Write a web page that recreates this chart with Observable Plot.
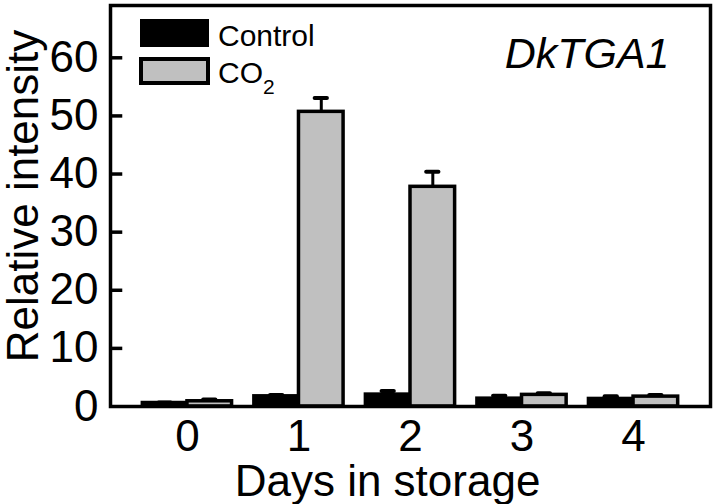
<!DOCTYPE html>
<html><head><meta charset="utf-8">
<script src="https://cdn.jsdelivr.net/npm/d3@7"></script>
<script src="https://cdn.jsdelivr.net/npm/@observablehq/plot@0.6"></script>
<style>
body{margin:0;background:#fff;}
#chart{position:relative;width:716px;height:504px;}
</style></head><body><div id="chart"></div>
<script>
const days = [0, 1, 2, 3, 4];
const treatments = ["Control", "CO2"];
const controlValues = [0.6, 1.75, 2.05, 1.35, 1.3];
const controlErrors = [0.1, 0.25, 0.6, 0.5, 0.45];
const co2Values = [0.9, 50.7, 37.8, 2.0, 1.7];
const co2Errors = [0.3, 2.4, 2.6, 0.3, 0.3];
const yTicks = [0, 10, 20, 30, 40, 50, 60];
const xTickLabels = ["0", "1", "2", "3", "4"];
const geneLabel = "DkTGA1";
const xTitle = "Days in storage";
const yTitle = "Relative intensity";

const font = "'Liberation Sans', Arial, Helvetica, sans-serif";
const xDomain = [-0.69, 4.69];
const barWidth = 0.4;
const capHalf = 0.055;
const tickLen = 0.11;

const rows = [];
days.forEach((d, i) => {
  rows.push({day: d, treatment: treatments[0], value: controlValues[i], err: controlErrors[i], x1: d - barWidth, x2: d});
  rows.push({day: d, treatment: treatments[1], value: co2Values[i], err: co2Errors[i], x1: d, x2: d + barWidth});
});
const mid = d => (d.x1 + d.x2) / 2;

const plot = Plot.plot({
  width: 716, height: 504,
  marginLeft: 110, marginRight: 6, marginTop: 5, marginBottom: 98,
  style: {fontFamily: font, background: "#fff", color: "#000"},
  x: {type: "linear", domain: xDomain, axis: null},
  y: {domain: [0, 69], axis: null},
  marks: [
    Plot.ruleX(rows, {x: mid, y1: "value", y2: d => d.value + d.err, stroke: "#000", strokeWidth: 3}),
    Plot.ruleY(rows, {y: d => d.value + d.err, x1: d => mid(d) - capHalf, x2: d => mid(d) + capHalf, stroke: "#000", strokeWidth: 4, strokeLinecap: "round"}),
    Plot.rectY(rows.filter(d => d.treatment === treatments[0]), {x1: "x1", x2: "x2", y1: 0, y2: "value", fill: "#000", stroke: "#000", strokeWidth: 3.5}),
    Plot.rectY(rows.filter(d => d.treatment === treatments[1]), {x1: "x1", x2: "x2", y1: 0, y2: "value", fill: "#c0c0c0", stroke: "#000", strokeWidth: 3.5}),
    Plot.ruleY(yTicks.slice(1), {y: d => d, x1: xDomain[0], x2: xDomain[0] + tickLen, stroke: "#000", strokeWidth: 3.5}),
    Plot.frame({stroke: "#000", strokeWidth: 3.5}),
    Plot.axisY(yTicks, {anchor: "left", tickSize: 0, tickPadding: 12, fontSize: 44, stroke: "none", label: null}),
    Plot.axisX(days, {anchor: "bottom", tickSize: 0, tickPadding: 13, fontSize: 44, tickFormat: (d, i) => xTickLabels[i], label: null}),
    Plot.text([xTitle], {frameAnchor: "bottom", dx: -23, dy: 89, textAnchor: "middle", lineAnchor: "bottom", fontSize: 44}),
    Plot.text([yTitle], {frameAnchor: "left", dx: -73, dy: -10, rotate: -90, textAnchor: "middle", lineAnchor: "bottom", fontSize: 44}),
    Plot.text([geneLabel], {frameAnchor: "top-right", dx: -41, dy: 62, textAnchor: "end", lineAnchor: "bottom", fontSize: 43, fontStyle: "italic"})
  ]
});

// legend
const svg = d3.select(plot);
const lg = svg.append("g").attr("font-family", font).attr("fill", "#000").attr("text-anchor", "start");
lg.append("rect").attr("x", 142).attr("y", 21).attr("width", 65).attr("height", 24)
  .attr("fill", "#000").attr("stroke", "#000").attr("stroke-width", 4);
lg.append("rect").attr("x", 141).attr("y", 59).attr("width", 67).attr("height", 24)
  .attr("fill", "#c0c0c0").attr("stroke", "#000").attr("stroke-width", 4);
lg.append("text").attr("x", 218).attr("y", 46).attr("font-size", 30).text(treatments[0]);
const t2 = lg.append("text").attr("x", 218).attr("y", 83).attr("font-size", 30);
t2.append("tspan").text("CO");
t2.append("tspan").attr("font-size", 21).attr("dy", 11).text("2");

document.getElementById("chart").appendChild(plot);
</script></body></html>
